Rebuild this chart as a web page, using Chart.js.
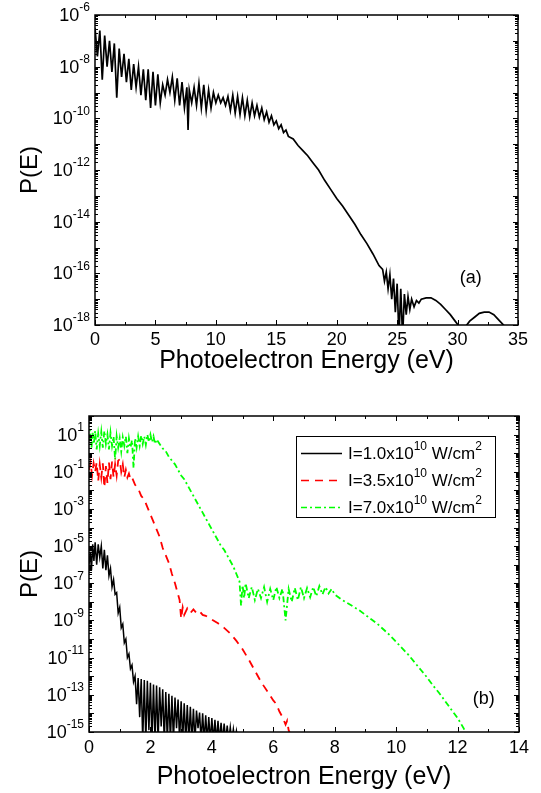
<!DOCTYPE html>
<html>
<head>
<meta charset="utf-8">
<script src="https://cdn.jsdelivr.net/npm/chart.js@4.4.0/dist/chart.umd.min.js"></script>
<style>
html, body { margin: 0; padding: 0; background: #fff; }
#wrap { position: relative; width: 541px; height: 793px; }
canvas { position: absolute; left: 0; }
#chartA { top: 0; }
#chartB { top: 395px; }
</style>
</head>
<body>
<div id="wrap">
<canvas id="chartA" width="541" height="395"></canvas>
<canvas id="chartB" width="541" height="398"></canvas>
</div>
<script>
// values; P(E) kept as log10 because the axes are logarithmic

// panel (a)
const energyA = [
  0, 0.2, 0.4, 0.6, 0.8, 1.0, 1.2, 1.4, 1.6, 1.8,
  2.0, 2.2, 2.4, 2.6, 2.8, 3.0, 3.2, 3.4, 3.6, 3.8,
  4.0, 4.2, 4.4, 4.6, 4.8, 5.0, 5.2, 5.4, 5.6, 5.8,
  6.0, 6.2, 6.4, 6.6, 6.8, 7.0, 7.2, 7.4, 7.6, 7.7,
  7.8, 8.0, 8.2, 8.4, 8.6, 8.8, 9.0, 9.2, 9.4, 9.6,
  9.8, 10.0, 10.2, 10.4, 10.6, 10.8, 11.0, 11.2, 11.4, 11.6,
  11.8, 12.0, 12.2, 12.4, 12.6, 12.8, 13.0, 13.2, 13.4, 13.6,
  13.8, 14.0, 14.2, 14.4, 14.6, 14.8, 15.0, 15.2, 15.4, 15.6,
  15.8, 16.0, 16.4, 16.8, 17.2, 17.6, 18.0, 18.5, 19.0, 19.5,
  20.0, 20.5, 21.0, 21.5, 22.0, 22.5, 23.0, 23.5, 23.8, 23.95,
  24.1, 24.25, 24.4, 24.55, 24.7, 24.85, 25.0, 25.15, 25.3, 25.45,
  25.6, 25.75, 25.9, 26.05, 26.2, 26.4, 26.6, 26.8, 27.0, 27.4,
  27.8, 28.2, 28.6, 29.0, 29.4, 29.8, 30.2, 30.6, 31.0, 31.4,
  31.8, 32.2, 32.6, 33.0, 33.4, 33.9
];
const logProbA = [
  -6.5, -7.6, -6.6, -8.5, -6.8, -8.0, -7.0, -8.2, -7.1, -9.2,
  -7.3, -8.4, -7.5, -8.6, -7.7, -8.9, -7.9, -8.8, -8.0, -9.1,
  -8.1, -9.3, -8.1, -9.6, -8.2, -9.5, -8.3, -9.4, -8.7, -9.1,
  -8.5, -9.0, -8.4, -9.3, -8.45, -9.5, -8.6, -9.6, -8.8, -10.45,
  -8.9, -9.4, -8.8, -9.5, -8.65, -9.6, -8.7, -9.7, -8.9, -9.6,
  -9.0, -9.4, -9.1, -9.4, -9.2, -9.5, -9.15, -9.7, -9.1, -9.8,
  -9.15, -9.85, -9.2, -9.9, -9.3, -9.95, -9.4, -9.9, -9.5, -9.95,
  -9.6, -10.05, -9.75, -10.15, -9.9, -10.25, -10.1, -10.4, -10.25, -10.55,
  -10.45, -10.7, -10.8, -11.05, -11.25, -11.45, -11.7, -12.0, -12.4, -12.75,
  -13.1, -13.4, -13.75, -14.1, -14.5, -14.85, -15.25, -15.7, -15.85, -16.3,
  -15.95, -16.6, -16.05, -17.0, -16.2, -17.5, -16.4, -18.5, -16.6, -18.5,
  -16.8, -17.6, -16.9, -17.4, -17.0, -17.3, -17.05, -17.15, -17.0, -16.95,
  -16.95, -17.05, -17.2, -17.4, -17.6, -17.85, -18.1, -18.1, -17.85, -17.7,
  -17.55, -17.5, -17.5, -17.6, -17.8, -18.05
];

// panel (b), I = 1.0e10 W/cm2
const energyB1 = [
  0, 0.04, 0.08, 0.12, 0.16, 0.2, 0.25, 0.3, 0.35, 0.4,
  0.45, 0.5, 0.55, 0.6, 0.65, 0.7, 0.75, 0.8, 0.85, 0.9,
  0.95, 1.0, 1.05, 1.1, 1.15, 1.2, 1.25, 1.3, 1.35, 1.4,
  1.45, 1.5, 1.55, 1.6, 1.65, 1.7, 1.75, 1.8, 1.85, 1.9,
  1.95, 2.0, 2.05, 2.1, 2.15, 2.2, 2.25, 2.3, 2.35, 2.4,
  2.45, 2.5, 2.55, 2.6, 2.65, 2.7, 2.75, 2.8, 2.85, 2.9,
  2.95, 3.0, 3.05, 3.1, 3.15, 3.2, 3.25, 3.3, 3.35, 3.4,
  3.45, 3.5, 3.55, 3.6, 3.65, 3.7, 3.75, 3.8, 3.85, 3.9,
  3.95, 4.0, 4.05, 4.1, 4.15, 4.2, 4.25, 4.3, 4.35, 4.4,
  4.45, 4.5, 4.55, 4.6, 4.65, 4.7, 4.75, 4.8, 4.85
];
const logProbB1 = [
  -6.0, -5.3, -6.3, -4.9, -5.8, -4.8, -6.0, -4.9, -5.6, -5.0,
  -6.2, -5.2, -6.3, -5.5, -6.6, -6.2, -7.2, -6.8, -7.6, -7.5,
  -8.6, -8.3, -9.4, -9.2, -10.2, -10.0, -11.0, -10.8, -11.6, -11.4,
  -12.3, -12.0, -13.5, -12.1, -14.2, -12.15, -15.5, -12.2, -15.5, -12.25,
  -14.9, -12.35, -15.5, -12.45, -15.5, -12.5, -15.5, -12.6, -14.7, -12.7,
  -15.5, -12.85, -15.5, -12.95, -15.5, -13.05, -15.5, -13.15, -14.8, -13.25,
  -15.5, -13.35, -15.5, -13.45, -15.5, -13.55, -15.5, -13.65, -15.5, -13.75,
  -15.5, -13.85, -14.8, -13.95, -15.5, -14.0, -15.5, -14.1, -15.5, -14.2,
  -15.5, -14.25, -15.5, -14.35, -15.5, -14.4, -15.5, -14.5, -15.5, -14.55,
  -15.5, -14.65, -15.5, -14.75, -15.5, -14.85, -15.5, -14.95, -15.5
];

// panel (b), I = 3.5e10 W/cm2
const energyB2 = [
  0, 0.05, 0.1, 0.15, 0.2, 0.25, 0.3, 0.35, 0.4, 0.45,
  0.5, 0.55, 0.6, 0.65, 0.7, 0.75, 0.8, 0.85, 0.9, 0.95,
  1.0, 1.05, 1.1, 1.15, 1.2, 1.25, 1.3, 1.35, 1.4, 1.5,
  1.6, 1.7, 1.8, 1.9, 2.0, 2.1, 2.2, 2.3, 2.4, 2.5,
  2.6, 2.7, 2.8, 2.9, 2.95, 3.0, 3.05, 3.1, 3.2, 3.3,
  3.4, 3.5, 3.6, 3.7, 3.8, 3.9, 4.0, 4.2, 4.4, 4.6,
  4.8, 5.0, 5.2, 5.4, 5.6, 5.8, 6.0, 6.1, 6.2, 6.3,
  6.4, 6.45, 6.5, 6.55
];
const logProbB2 = [
  -0.9, -0.5, -1.2, -0.55, -1.0, -0.5, -1.5, -0.6, -1.3, -0.55,
  -1.85, -0.7, -1.6, -0.5, -1.4, -0.45, -1.3, -0.6, -1.2, -0.4,
  -0.33, -1.0, -0.6, -1.3, -0.9, -1.3, -1.1, -1.4, -1.3, -1.7,
  -1.9, -2.3, -2.5, -2.9, -3.3, -3.7, -4.1, -4.5, -5.1, -5.5,
  -5.9, -6.5, -7.0, -7.6, -7.9, -8.9, -8.3, -8.7, -8.35, -8.6,
  -8.4, -8.6, -8.5, -8.7, -8.75, -8.85, -8.95, -9.15, -9.4, -9.7,
  -10.1, -10.55, -11.1, -11.7, -12.3, -12.8, -13.3, -13.5, -13.9, -14.2,
  -14.6, -14.4, -14.9, -15.1
];

// panel (b), I = 7.0e10 W/cm2
const energyB3 = [
  0, 0.04, 0.08, 0.12, 0.16, 0.2, 0.25, 0.3, 0.35, 0.4,
  0.45, 0.5, 0.55, 0.6, 0.65, 0.7, 0.75, 0.8, 0.85, 0.9,
  0.95, 1.0, 1.05, 1.1, 1.15, 1.2, 1.25, 1.3, 1.35, 1.4,
  1.45, 1.5, 1.55, 1.6, 1.65, 1.7, 1.75, 1.8, 1.85, 1.9,
  1.95, 2.0, 2.05, 2.1, 2.15, 2.2, 2.3, 2.4, 2.5, 2.6,
  2.7, 2.8, 2.9, 3.0, 3.1, 3.2, 3.3, 3.4, 3.5, 3.6,
  3.7, 3.8, 3.9, 4.0, 4.1, 4.2, 4.3, 4.4, 4.5, 4.6,
  4.7, 4.8, 4.9, 4.95, 5.0, 5.05, 5.1, 5.2, 5.3, 5.4,
  5.5, 5.6, 5.7, 5.8, 5.9, 6.0, 6.1, 6.2, 6.3, 6.4,
  6.5, 6.6, 6.7, 6.8, 6.9, 7.0, 7.1, 7.2, 7.3, 7.4,
  7.5, 7.6, 7.7, 7.8, 7.9, 8.0, 8.2, 8.4, 8.6, 8.8,
  9.0, 9.2, 9.4, 9.6, 9.8, 10.0, 10.2, 10.4, 10.6, 10.8,
  11.0, 11.2, 11.4, 11.6, 11.8, 12.0, 12.2, 12.25
];
const logProbB3 = [
  0.7, 1.25, 0.3, 1.1, 0.5, 1.2, 0.2, 1.05, 0.4, 1.15,
  0.3, 1.2, 0.5, 1.0, 0.2, 1.1, 0.4, 0.9, -0.35, 0.9,
  0.3, 0.8, 0.1, 0.85, 0.4, 0.9, 0.0, 0.8, 0.3, 0.7,
  -0.8, 0.8, 0.3, 0.9, 0.4, 0.95, 0.5, 0.9, 0.45, 1.0,
  0.6, 1.0, 0.6, 0.9, 0.5, 0.75, 0.5, 0.25, 0.1, -0.2,
  -0.4, -0.6, -0.9, -1.2, -1.4, -1.7, -2.0, -2.3, -2.6, -2.9,
  -3.2, -3.5, -3.8, -4.1, -4.4, -4.7, -5.0, -5.2, -5.5, -5.8,
  -6.1, -6.5, -6.9, -8.2, -7.1, -7.8, -7.0, -7.8, -7.2, -7.9,
  -7.3, -7.8, -7.2, -8.0, -7.3, -7.9, -7.2, -7.8, -7.3, -9.0,
  -7.3, -8.0, -7.25, -7.9, -7.2, -7.8, -7.25, -7.75, -7.2, -7.7,
  -7.15, -7.6, -7.2, -7.55, -7.3, -7.6, -7.85, -8.05, -8.25, -8.45,
  -8.7, -8.95, -9.2, -9.5, -9.8, -10.15, -10.5, -10.85, -11.25, -11.65,
  -12.05, -12.5, -12.9, -13.35, -13.8, -14.25, -14.8, -15.0
];

// legend mantissas (x10^10 W/cm^2) and axis tick labels (powers of ten)
const intensityB = ['1.0', '3.5', '7.0'];
const yTickExpA = [-6, -8, -10, -12, -14, -16, -18];
const yTickExpB = [1, -1, -3, -5, -7, -9, -11, -13, -15];

const FONT = "'Liberation Sans', Arial, sans-serif";
Chart.defaults.font.family = FONT;
Chart.defaults.color = '#000';

function toPoints(xs, logs) {
  const pts = [];
  for (let i = 0; i < xs.length; i++) {
    pts.push({ x: xs[i], y: Math.pow(10, logs[i]) });
  }
  return pts;
}

function drawPow(ctx, xRight, y, exp) {
  ctx.font = '18px ' + FONT;
  const w1 = ctx.measureText('10').width;
  ctx.font = '12px ' + FONT;
  const s = String(exp);
  const w2 = ctx.measureText(s).width;
  ctx.textAlign = 'left';
  ctx.textBaseline = 'middle';
  ctx.font = '18px ' + FONT;
  ctx.fillText('10', xRight - w1 - w2, y + 1);
  ctx.font = '12px ' + FONT;
  ctx.fillText(s, xRight - w2, y - 7);
}

// inward ticks on all four sides, frame, y labels and panel tag
const frameTicks = {
  id: 'frameTicks',
  afterDraw(chart, args, opts) {
    const ctx = chart.ctx;
    const a = chart.chartArea;
    const xs = chart.scales.x, ys = chart.scales.y;
    ctx.save();
    ctx.strokeStyle = '#000';
    ctx.fillStyle = '#000';
    ctx.lineWidth = 1;
    ctx.beginPath();
    for (let v = xs.min; v <= xs.max + 1e-9; v += opts.xMinor) {
      const px = Math.round(xs.getPixelForValue(v)) + 0.5;
      const r = v / opts.xMajor;
      const len = Math.abs(r - Math.round(r)) < 1e-6 ? 5 : 3;
      ctx.moveTo(px, a.bottom); ctx.lineTo(px, a.bottom - len);
      ctx.moveTo(px, a.top); ctx.lineTo(px, a.top + len);
    }
    const e0 = Math.round(Math.log10(ys.min)), e1 = Math.round(Math.log10(ys.max));
    for (let e = e0; e <= e1; e++) {
      for (let m = 1; m <= 9; m++) {
        if (e === e1 && m > 1) break;
        const py = Math.round(ys.getPixelForValue(m * Math.pow(10, e))) + 0.5;
        const len = m === 1 ? 5 : 3;
        ctx.moveTo(a.left, py); ctx.lineTo(a.left + len, py);
        ctx.moveTo(a.right, py); ctx.lineTo(a.right - len, py);
      }
    }
    ctx.stroke();
    ctx.lineWidth = 1.5;
    ctx.strokeRect(a.left, a.top, a.right - a.left, a.bottom - a.top);

    opts.yExps.forEach(function (e) {
      drawPow(ctx, a.left - 5, ys.getPixelForValue(Math.pow(10, e)), e);
    });

    ctx.font = '18px ' + FONT;
    ctx.textAlign = 'center';
    ctx.textBaseline = 'middle';
    ctx.fillText(opts.tag, xs.getPixelForValue(opts.tagX), ys.getPixelForValue(opts.tagY));
    ctx.restore();
  }
};

// legend with superscripts for panel (b)
const supLegend = {
  id: 'supLegend',
  afterDraw(chart) {
    if (!chart.options.plugins.supLegend) return;
    const ctx = chart.ctx;
    const a = chart.chartArea;
    const bx = a.right - 223, by = a.top + 20, bw = 199, bh = 81;
    ctx.save();
    ctx.fillStyle = '#fff';
    ctx.fillRect(bx, by, bw, bh);
    ctx.strokeStyle = '#000';
    ctx.lineWidth = 1;
    ctx.strokeRect(bx + 0.5, by + 0.5, bw, bh);
    chart.data.datasets.forEach(function (ds, i) {
      const y = by + 17 + i * 27;
      ctx.strokeStyle = ds.borderColor;
      ctx.lineWidth = 1.5;
      ctx.setLineDash(ds.borderDash || []);
      ctx.beginPath();
      ctx.moveTo(bx + 5, y + 0.5);
      ctx.lineTo(bx + 46, y + 0.5);
      ctx.stroke();
      ctx.setLineDash([]);
      ctx.fillStyle = '#000';
      ctx.textAlign = 'left';
      ctx.textBaseline = 'middle';
      let x = bx + 52;
      const parts = [
        ['I=' + intensityB[i] + 'x10', 17, 0],
        ['10', 12, -7],
        [' W/cm', 17, 0],
        ['2', 12, -7]
      ];
      parts.forEach(function (p) {
        ctx.font = p[1] + 'px ' + FONT;
        ctx.fillText(p[0], x, y + 1 + p[2]);
        x += ctx.measureText(p[0]).width;
      });
    });
    ctx.restore();
  }
};

function makeChart(id, datasets, xCfg, yCfg, pad, frameOpts, legendOn) {
  return new Chart(document.getElementById(id), {
    type: 'line',
    data: { datasets: datasets },
    options: {
      responsive: false,
      animation: false,
      parsing: true,
      layout: { padding: pad },
      elements: { point: { radius: 0 }, line: { tension: 0 } },
      plugins: {
        legend: { display: false },
        tooltip: { enabled: false },
        frameTicks: frameOpts,
        supLegend: legendOn
      },
      scales: {
        x: {
          type: 'linear',
          min: xCfg.min, max: xCfg.max,
          grid: { display: false, drawTicks: false },
          border: { display: false },
          ticks: { stepSize: xCfg.step, autoSkip: false, maxRotation: 0, padding: xCfg.tickPad, font: { size: 18 }, color: '#000' },
          title: { display: true, text: 'Photoelectron Energy (eV)', font: { size: 25 }, color: '#000', padding: { top: 0, bottom: xCfg.titlePad } },
          afterFit: function (s) { s.height = xCfg.height; }
        },
        y: {
          type: 'logarithmic',
          min: yCfg.min, max: yCfg.max,
          grid: { display: false, drawTicks: false },
          border: { display: false },
          ticks: { display: false },
          title: { display: true, text: 'P(E)', font: { size: 24 }, color: '#000', padding: { top: 16, bottom: 0 } },
          afterFit: function (s) { s.width = yCfg.width; }
        }
      }
    },
    plugins: [frameTicks, supLegend]
  });
}

makeChart('chartA',
  [{ data: toPoints(energyA, logProbA), borderColor: '#000', borderWidth: 1.7 }],
  { min: 0, max: 35, step: 5, tickPad: 4, titlePad: 19, height: 70 },
  { min: 1e-18, max: 1e-6, width: 95 },
  { left: 0, top: 15, right: 23, bottom: 0 },
  { xMinor: 2.5, xMajor: 5, yExps: yTickExpA, tag: '(a)', tagX: 31.1, tagY: Math.pow(10, -16.2) },
  false);

makeChart('chartB',
  [
    { data: toPoints(energyB1, logProbB1), borderColor: '#000000', borderWidth: 1.5 },
    { data: toPoints(energyB2, logProbB2), borderColor: '#ff0000', borderWidth: 1.8, borderDash: [8, 6] },
    { data: toPoints(energyB3, logProbB3), borderColor: '#00ff00', borderWidth: 1.8, borderDash: [6, 3, 2, 3] }
  ],
  { min: 0, max: 14, step: 2, tickPad: 5, titlePad: 1, height: 61 },
  { min: 1e-15, max: 1e2, width: 89 },
  { left: 0, top: 21, right: 22, bottom: 0 },
  { xMinor: 1, xMajor: 2, yExps: yTickExpB, tag: '(b)', tagX: 12.85, tagY: Math.pow(10, -13.2) },
  true);
</script>
</body>
</html>
